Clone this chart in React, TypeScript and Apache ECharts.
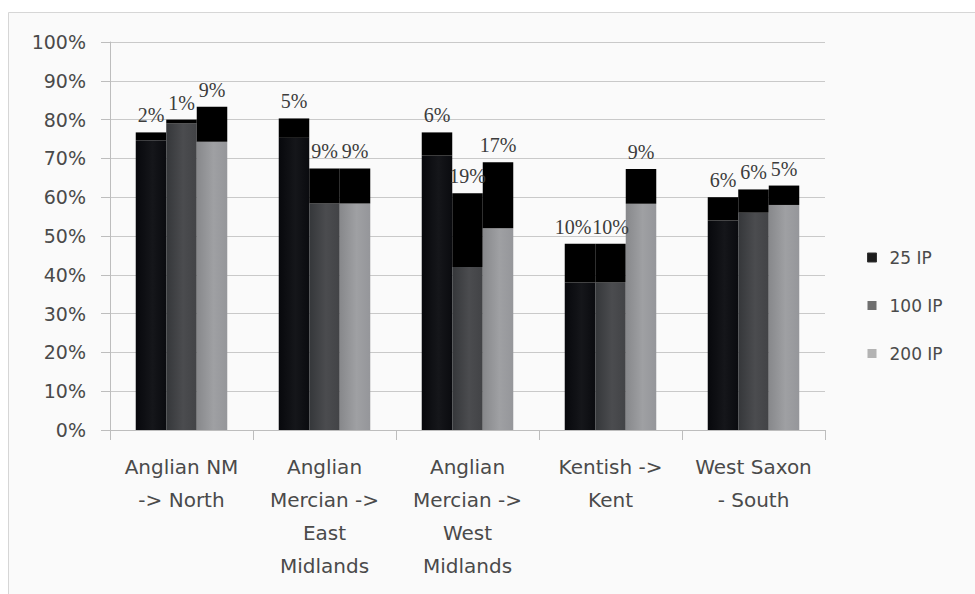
import React, { useEffect, useRef } from "react";
import * as echarts from "echarts";

// Regions compared, broken into the level each inflection set already reaches
// (base) and the extra share gained on top of it (gain, labelled in %).
const categories = [
  "Anglian NM\n-> North",
  "Anglian\nMercian ->\nEast\nMidlands",
  "Anglian\nMercian ->\nWest\nMidlands",
  "Kentish ->\nKent",
  "West Saxon\n- South",
];

const seriesNames = ["25 IP", "100 IP", "200 IP"];

const base25 = [74.7, 75.3, 70.7, 38, 54];
const gain25 = [2, 5, 6, 10, 6];

const base100 = [79, 58.4, 42, 38, 56];
const gain100 = [1, 9, 19, 10, 6];

const base200 = [74.3, 58.4, 52, 58.3, 58];
const gain200 = [9, 9, 17, 9, 5];

const yTicks = { min: 0, max: 100, interval: 10 };

const sansFont = "DejaVu Sans";
const serifFont = "Liberation Serif";

function shade(left: string, mid: string, right: string) {
  return new echarts.graphic.LinearGradient(0, 0, 1, 0, [
    { offset: 0, color: left },
    { offset: 0.55, color: mid },
    { offset: 1, color: right },
  ]);
}

export default function App() {
  const ref = useRef<HTMLDivElement>(null);

  useEffect(() => {
    if (!ref.current) return;
    const chart = echarts.init(ref.current, undefined, { renderer: "svg" });

    const fills = [
      shade("#07080c", "#15161a", "#0a0b0f"),
      shade("#35373a", "#4b4c4f", "#424346"),
      shade("#87888b", "#9fa0a3", "#95969a"),
    ];
    const legendFills = ["#1c1c1c", "#6f6f6f", "#b3b3b3"];
    const bases = [base25, base100, base200];
    const gains = [gain25, gain100, gain200];

    const series: any[] = [];
    seriesNames.forEach((name, i) => {
      series.push({
        name,
        type: "bar",
        stack: "stack" + i,
        data: bases[i],
        itemStyle: { color: fills[i] },
        barGap: "0%",
        barCategoryGap: "36%",
      });
      series.push({
        name: name + " gain",
        type: "bar",
        stack: "stack" + i,
        // the two side-by-side Kentish labels would collide; nudge the left one
        data: gains[i].map((v, j) =>
          i === 0 && j === 3 ? { value: v, label: { offset: [-7, 0] } } : v
        ),
        itemStyle: { color: "#000000" },
        label: {
          show: true,
          position: "top",
          distance: 7,
          formatter: "{c}%",
          fontFamily: serifFont,
          fontSize: 20,
          color: "#3c3c3c",
        },
      });
    });

    chart.setOption({
      animation: false,
      backgroundColor: "#ffffff",
      graphic: [
        {
          type: "rect",
          z: -100,
          silent: true,
          shape: { x: 8.5, y: 12.5, width: 990, height: 600 },
          style: { fill: "#fafafa", stroke: "#d6d6d6", lineWidth: 1 },
        },
      ],
      grid: { left: 110, right: 150, top: 42, bottom: 164, containLabel: false },
      legend: {
        orient: "vertical",
        left: 867,
        top: 249,
        padding: 0,
        itemWidth: 9,
        itemHeight: 9,
        itemGap: 31,
        icon: "rect",
        selectedMode: false,
        data: seriesNames.map((n, i) => ({
          name: n,
          itemStyle: { color: legendFills[i], borderColor: "#333", borderWidth: i === 0 ? 1 : 0 },
        })),
        textStyle: {
          fontFamily: sansFont,
          fontSize: 17,
          color: "#4a4a4a",
          padding: [0, 0, 0, 8],
        },
      },
      xAxis: {
        type: "category",
        data: categories,
        axisLine: { show: true, lineStyle: { color: "#bdbdbd", width: 1 } },
        axisTick: { show: true, length: 10, lineStyle: { color: "#bdbdbd" } },
        axisLabel: {
          interval: 0,
          margin: 20,
          fontFamily: sansFont,
          fontSize: 20,
          lineHeight: 33,
          color: "#4a4a4a",
        },
      },
      yAxis: {
        type: "value",
        min: yTicks.min,
        max: yTicks.max,
        interval: yTicks.interval,
        axisLine: { show: true, lineStyle: { color: "#bdbdbd", width: 1 } },
        axisTick: { show: true, length: 9, lineStyle: { color: "#bdbdbd" } },
        axisLabel: {
          formatter: "{value}%",
          margin: 24,
          fontFamily: sansFont,
          fontSize: 19,
          color: "#4a4a4a",
        },
        splitLine: { show: true, lineStyle: { color: "#c9c9c9", width: 1 } },
      },
      series,
    });

    return () => chart.dispose();
  }, []);

  return (
    <div
      ref={ref}
      style={{ position: "fixed", left: 0, top: 0, width: 975, height: 594 }}
    />
  );
}
